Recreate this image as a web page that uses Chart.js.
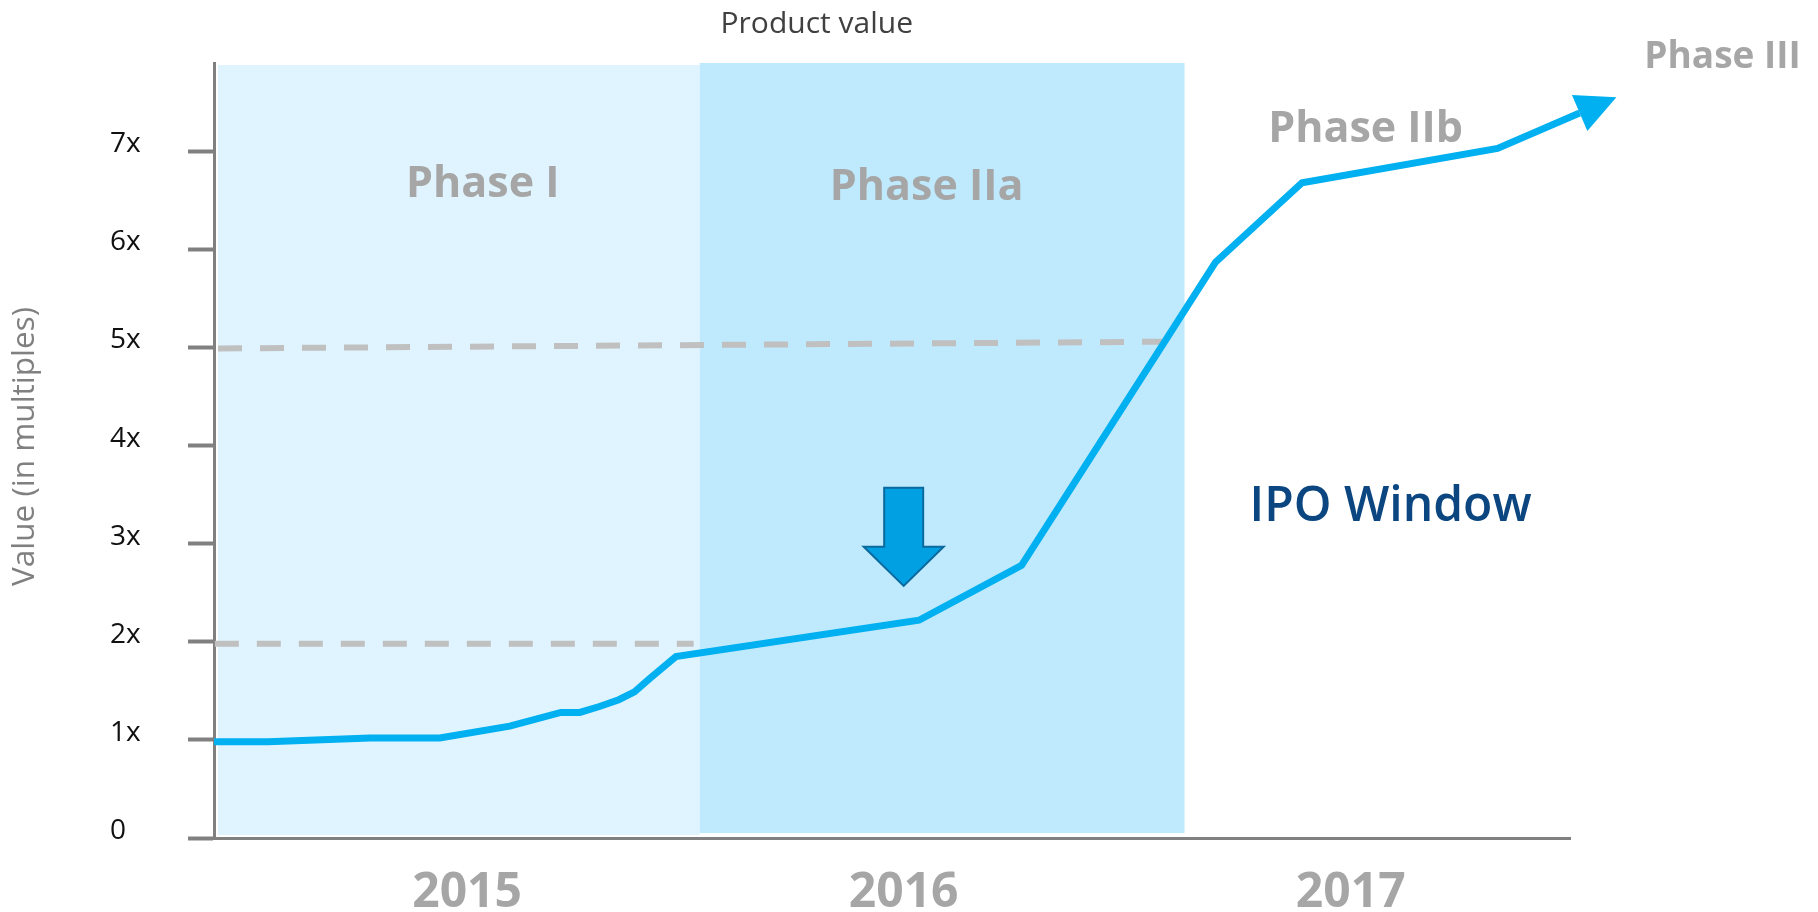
<!DOCTYPE html>
<html>
<head>
<meta charset="utf-8">
<script src="https://cdn.jsdelivr.net/npm/chart.js@4.4.1/dist/chart.umd.min.js"></script>
<style>
  html, body { margin: 0; padding: 0; background: #fff; }
</style>
</head>
<body>
<canvas id="chart" width="1818" height="912"></canvas>
<script>
// x is months counted from the start of 2015
const months = [0, 1.34, 3.88, 5.61, 7.35, 8.62, 9.09, 9.58, 10.06, 10.45, 10.84, 11.48, 17.52, 20.07, 24.89, 27.04, 31.9, 33.94];
const productValue = [0.98, 0.98, 1.02, 1.02, 1.14, 1.28, 1.28, 1.34, 1.41, 1.49, 1.63, 1.85, 2.22, 2.78, 5.87, 6.68, 7.03, 7.39];

// dashed reference levels
const ipoLevelMonths = [0.1, 23.92];
const ipoLevelValues = [4.99, 5.06];
const entryLevelMonths = [0.02, 11.92];
const entryLevelValues = [1.98, 1.98];

// shaded phases
const phaseNames = ['Phase I', 'Phase IIa'];
const phaseStart = [0.1, 12.07];
const phaseEnd = [12.07, 24.12];

const yTickValues = [0, 1, 2, 3, 4, 5, 6, 7];
const yTickLabels = ['0', '1x', '2x', '3x', '4x', '5x', '6x', '7x'];
const yearTicks = [6.29, 17.14, 28.25];
const yearLabels = ['2015', '2016', '2017'];

const FONT = "'Open Sans', sans-serif";

// text annotations, anchored in data units
const notes = [
  { text: 'Phase I', x: 6.68, y: 6.53, size: 43, weight: 'bold', color: '#a6a6a6' },
  { text: 'Phase IIa', x: 17.71, y: 6.50, size: 43, weight: 'bold', color: '#a6a6a6' },
  { text: 'Phase IIb', x: 28.62, y: 7.09, size: 43, weight: 'bold', color: '#a6a6a6' },
  { text: 'Phase III', x: 37.49, y: 7.85, size: 37, weight: 'bold', color: '#a6a6a6' },
  { text: 'IPO Window', x: 29.24, y: 3.23, size: 48, weight: '600', color: '#0b4680' }
];
const dropArrow = { x: 17.14, top: 3.57, neck: 2.97, tip: 2.57 };

const phaseColors = ['#dff4fe', '#bfeafd'];

const extras = {
  id: 'extras',
  beforeDraw(chart) {
    const { ctx, scales: { x, y } } = chart;
    ctx.save();
    phaseNames.forEach((name, i) => {
      const x0 = x.getPixelForValue(phaseStart[i]);
      const x1 = x.getPixelForValue(phaseEnd[i]);
      const yTop = y.getPixelForValue(7.9) + (i === 0 ? 2 : 0);
      const yBot = y.getPixelForValue(0.03) - (i === 0 ? 0 : 2);
      ctx.fillStyle = phaseColors[i];
      ctx.fillRect(x0, yTop, x1 - x0, yBot - yTop);
    });
    ctx.restore();
  },
  afterDatasetsDraw(chart) {
    const { ctx, scales: { x, y }, chartArea } = chart;
    ctx.save();

    // arrow head at the end of the value line
    const pts = chart.getDatasetMeta(0).data;
    const a = pts[pts.length - 2], b = pts[pts.length - 1];
    const ang = Math.atan2(b.y - a.y, b.x - a.x);
    const len = 40, half = 19.5;
    ctx.fillStyle = '#00b0f0';
    ctx.beginPath();
    ctx.moveTo(b.x + Math.cos(ang) * len, b.y + Math.sin(ang) * len);
    ctx.lineTo(b.x - Math.sin(ang) * half, b.y + Math.cos(ang) * half);
    ctx.lineTo(b.x + Math.sin(ang) * half, b.y - Math.cos(ang) * half);
    ctx.closePath();
    ctx.fill();

    // block arrow pointing down
    const cx = x.getPixelForValue(dropArrow.x);
    const yt = y.getPixelForValue(dropArrow.top);
    const yn = y.getPixelForValue(dropArrow.neck);
    const yp = y.getPixelForValue(dropArrow.tip);
    ctx.beginPath();
    ctx.moveTo(cx - 19.5, yt);
    ctx.lineTo(cx + 19.5, yt);
    ctx.lineTo(cx + 19.5, yn);
    ctx.lineTo(cx + 40, yn);
    ctx.lineTo(cx, yp);
    ctx.lineTo(cx - 40, yn);
    ctx.lineTo(cx - 19.5, yn);
    ctx.closePath();
    ctx.fillStyle = '#00a0e3';
    ctx.fill();
    ctx.strokeStyle = '#0a6a9e';
    ctx.lineWidth = 2;
    ctx.stroke();

    // labels
    ctx.textAlign = 'center';
    ctx.textBaseline = 'alphabetic';
    notes.forEach(n => {
      ctx.font = `${n.weight} ${n.size}px ${FONT}`;
      ctx.fillStyle = n.color;
      ctx.fillText(n.text, x.getPixelForValue(n.x), y.getPixelForValue(n.y));
    });

    ctx.textBaseline = 'middle';
    ctx.font = `30px ${FONT}`;
    ctx.fillStyle = '#404040';
    ctx.fillText('Product value', x.getPixelForValue(14.98), chartArea.top - 39);

    // y axis title
    ctx.translate(25.5, (chartArea.top + chartArea.bottom) / 2 - 4);
    ctx.rotate(-Math.PI / 2);
    ctx.font = `31.5px ${FONT}`;
    ctx.fillStyle = '#808080';
    ctx.fillText('Value (in multiples)', 0, 0);
    ctx.restore();
  }
};

new Chart(document.getElementById('chart'), {
  type: 'line',
  data: {
    datasets: [
      {
        data: months.map((m, i) => ({ x: m, y: productValue[i] })),
        borderColor: '#00b0f0',
        borderWidth: 7,
        pointRadius: 0,
        tension: 0,
        clip: false
      },
      {
        data: ipoLevelMonths.map((m, i) => ({ x: m, y: ipoLevelValues[i] })),
        borderColor: '#c0c0c0',
        borderWidth: 6,
        borderDash: [24, 18],
        pointRadius: 0
      },
      {
        data: entryLevelMonths.map((m, i) => ({ x: m, y: entryLevelValues[i] })),
        borderColor: '#c0c0c0',
        borderWidth: 6,
        borderDash: [24, 18],
        pointRadius: 0
      }
    ]
  },
  options: {
    responsive: false,
    animation: false,
    devicePixelRatio: 1,
    layout: { padding: { top: 63, right: 248, left: 110, bottom: 0 } },
    plugins: { legend: { display: false }, tooltip: { enabled: false } },
    scales: {
      x: {
        type: 'linear',
        min: 0,
        max: 33.7,
        grid: { display: false },
        border: { display: true, color: '#808080', width: 3 },
        afterBuildTicks: axis => { axis.ticks = yearTicks.map(v => ({ value: v })); },
        afterFit: s => { s.height = 74; },
        ticks: {
          autoSkip: false,
          maxRotation: 0,
          padding: 19,
          color: '#a6a6a6',
          font: { family: FONT, size: 48, weight: 'bold' },
          callback: (v, i) => yearLabels[i]
        }
      },
      y: {
        type: 'linear',
        min: 0,
        max: 7.9,
        afterBuildTicks: axis => { axis.ticks = yTickValues.map(v => ({ value: v })); },
        afterFit: s => { s.width = 104; },
        grid: {
          drawOnChartArea: false,
          drawTicks: true,
          tickLength: 26,
          tickWidth: 4,
          tickColor: '#808080'
        },
        border: { display: true, color: '#808080', width: 3 },
        ticks: {
          padding: 10,
          crossAlign: 'far',
          labelOffset: -7,
          color: '#111111',
          font: { family: FONT, size: 28 },
          callback: (v, i) => yTickLabels[i]
        }
      }
    }
  },
  plugins: [extras]
});
</script>
</body>
</html>
